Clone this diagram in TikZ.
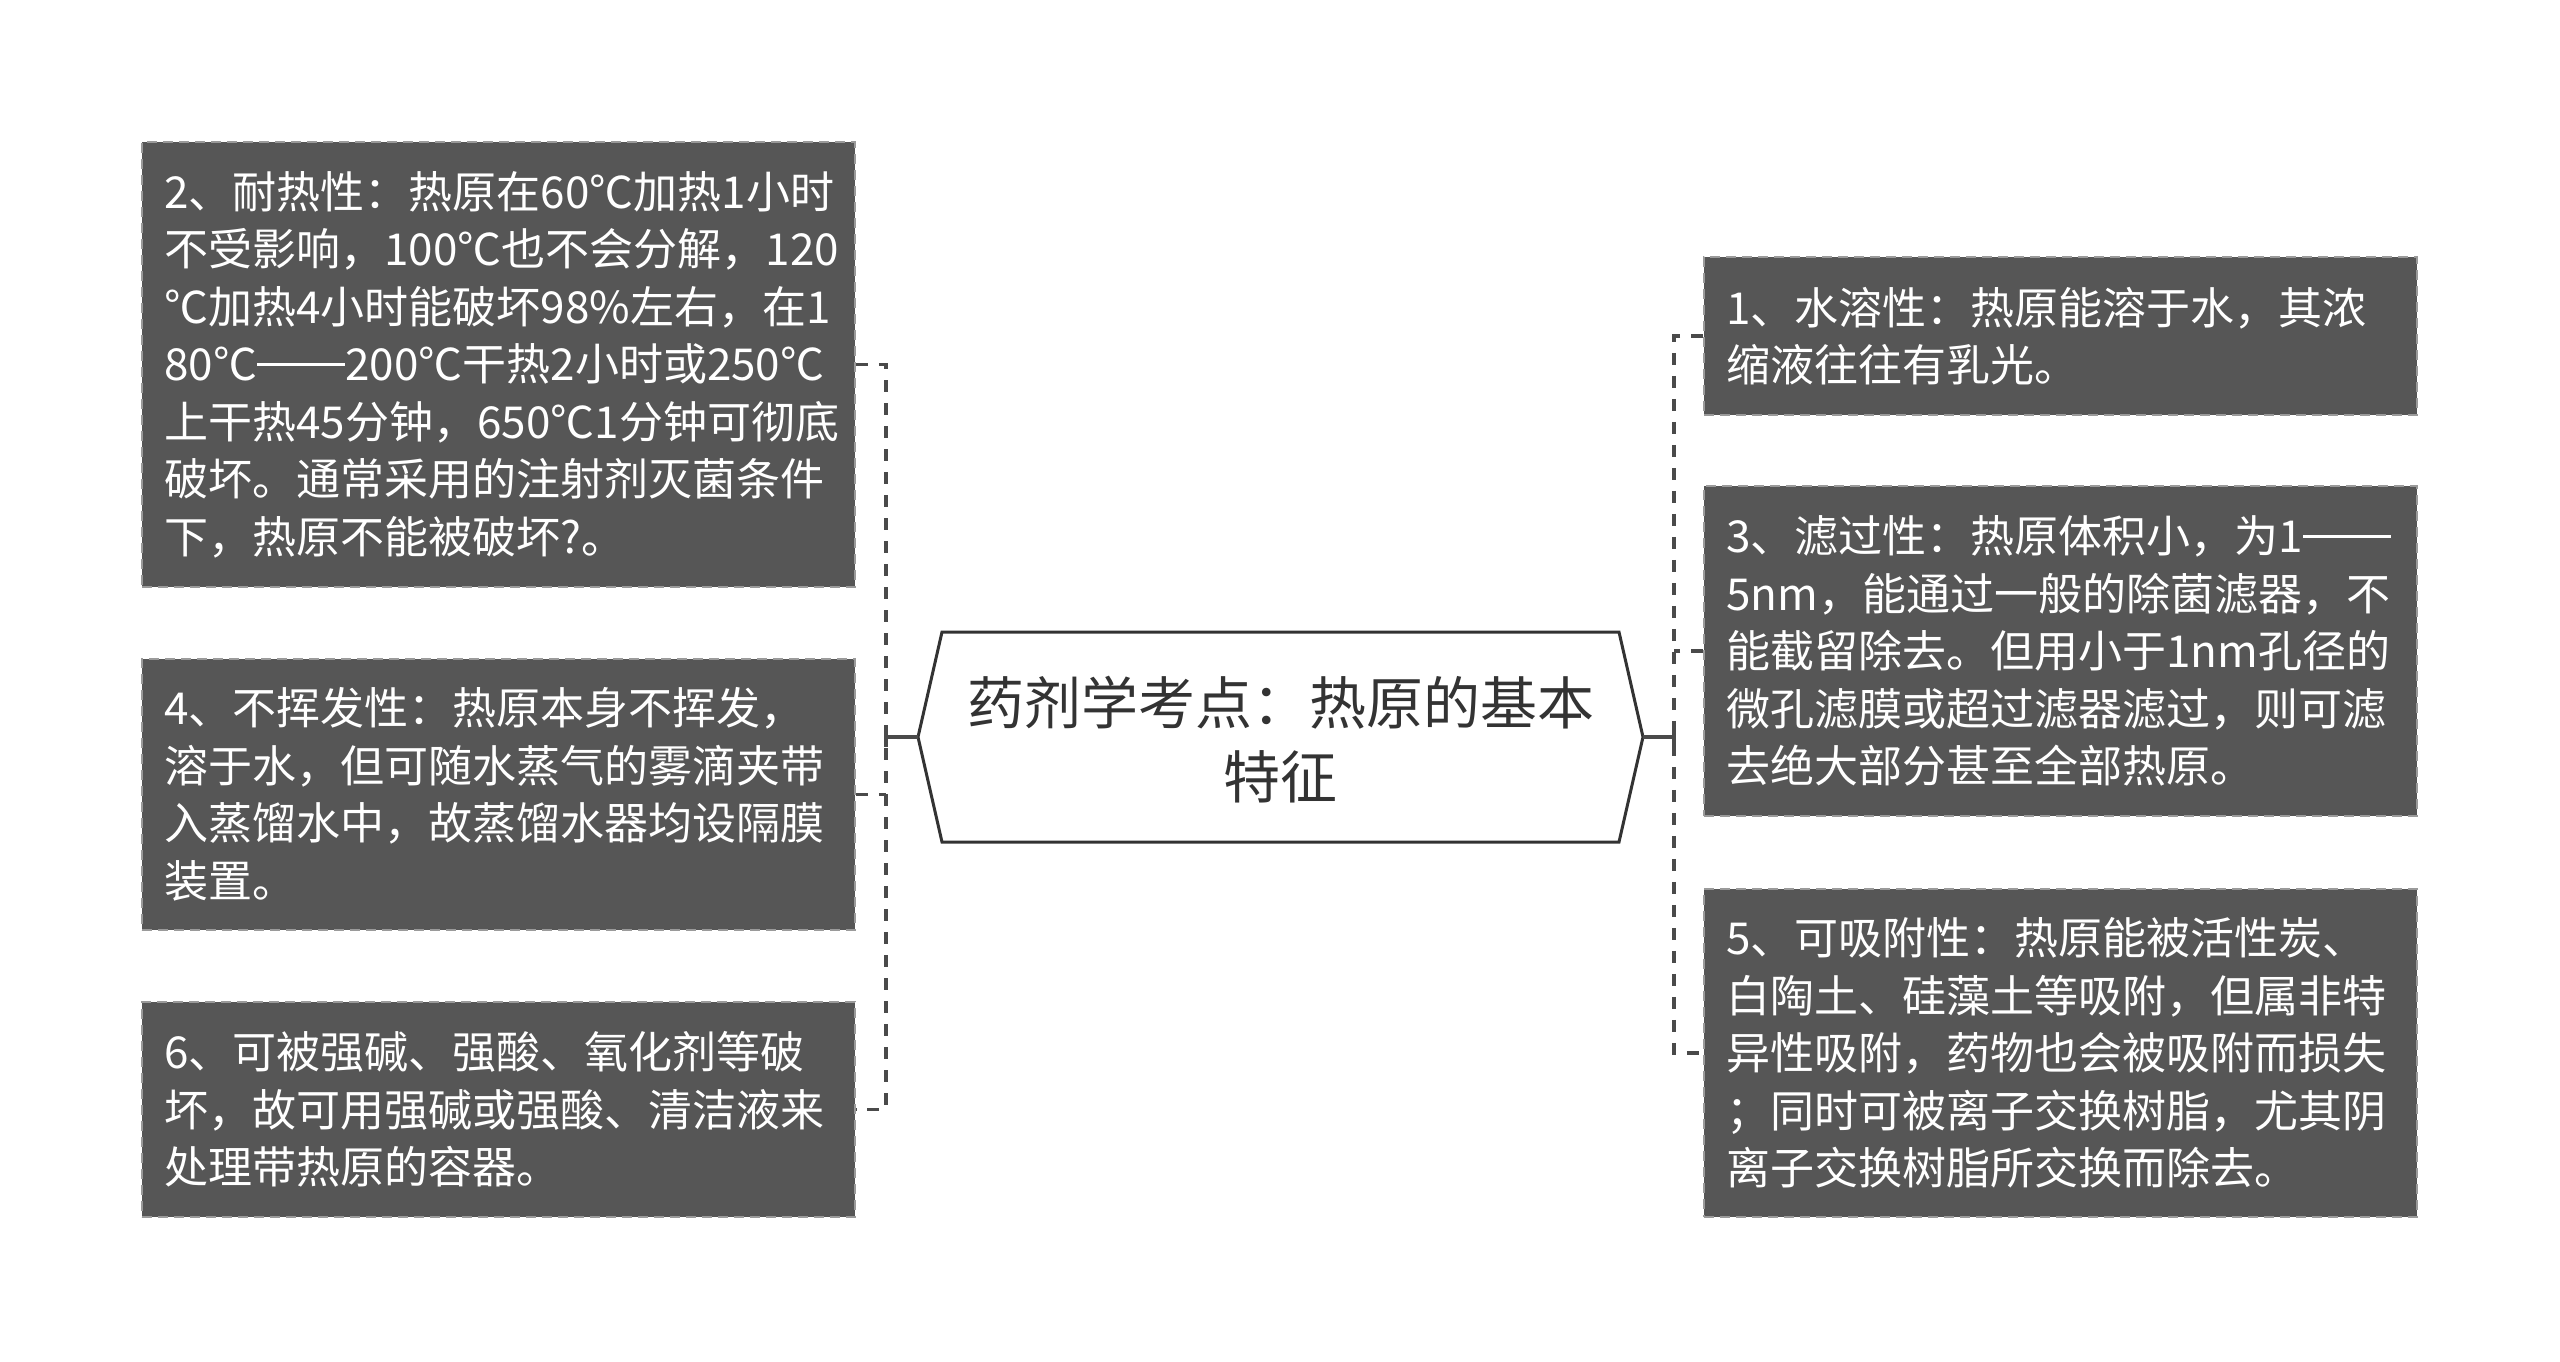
\documentclass[tikz,border=0pt]{standalone}
\usepackage{fontspec}
\setmainfont{Noto Sans CJK SC}
\definecolor{boxfill}{HTML}{565656}
\definecolor{boxline}{HTML}{9A9A9A}
\definecolor{connc}{HTML}{4A4A4A}
\definecolor{titlec}{HTML}{333333}
\newcommand{\emdd}{\rule[0.34em]{2em}{0.055em}}
\begin{document}
\begin{tikzpicture}[x=0.5pt,y=-0.5pt,
  infobox/.style={rectangle, fill=boxfill, draw=boxline, line width=0.9pt,
    dash pattern=on 5pt off 3pt, text=white, align=left,
    text width=334pt, inner xsep=11.25pt, inner ysep=0pt,
    minimum width=356.5pt,
    font=\fontsize{22pt}{28.75pt}\selectfont},
  conn/.style={draw=connc, line width=1.8pt, dash pattern=on 6pt off 5.5pt},
  solidconn/.style={draw=connc, line width=1.8pt},
  hexline/.style={draw=titlec, line width=1.5pt, fill=white, line join=miter},
  titletext/.style={text=titlec, align=center, inner sep=0pt,
    font=\fontsize{28.5pt}{37pt}\selectfont}
]
\useasboundingbox (0,0) rectangle (2560,1361);
\fill[white] (0,0) rectangle (2560,1361);

% hexagon corners
\coordinate (hL) at (918,737);
\coordinate (hTL) at (942,632);
\coordinate (hTR) at (1619,632);
\coordinate (hR) at (1643,737);
\coordinate (hBR) at (1619,842);
\coordinate (hBL) at (942,842);
\draw[hexline] (hL) -- (hTL) -- (hTR) -- (hR) -- (hBR) -- (hBL) -- cycle;
\node[titletext] (title) at (1280.5,740) {药剂学考点：热原的基本\\特征};

% left boxes
\node[infobox, minimum height=222.5pt] (b2) at (498.5,364.5) {\mbox{2、耐热性：热原在60℃加热1小时}\\\mbox{不受影响，100℃也不会分解，120}\\\mbox{℃加热4小时能破坏98\%左右，在1}\\\mbox{80℃\emdd 200℃干热2小时或250℃}\\\mbox{上干热45分钟，650℃1分钟可彻底}\\\mbox{破坏。通常采用的注射剂灭菌条件}\\\mbox{下，热原不能被破坏?。}};
\node[infobox, minimum height=135.5pt] (b4) at (498.5,794.5) {\mbox{4、不挥发性：热原本身不挥发，}\\\mbox{溶于水，但可随水蒸气的雾滴夹带}\\\mbox{入蒸馏水中，故蒸馏水器均设隔膜}\\\mbox{装置。}};
\node[infobox, minimum height=107.5pt] (b6) at (498.5,1109.5) {\mbox{6、可被强碱、强酸、氧化剂等破}\\\mbox{坏，故可用强碱或强酸、清洁液来}\\\mbox{处理带热原的容器。}};

% right boxes
\node[infobox, minimum height=79pt] (b1) at (2060.5,336) {\mbox{1、水溶性：热原能溶于水，其浓}\\\mbox{缩液往往有乳光。}};
\node[infobox, minimum height=165pt] (b3) at (2060.5,651) {\mbox{3、滤过性：热原体积小，为1\emdd}\\\mbox{5nm，能通过一般的除菌滤器，不}\\\mbox{能截留除去。但用小于1nm孔径的}\\\mbox{微孔滤膜或超过滤器滤过，则可滤}\\\mbox{去绝大部分甚至全部热原。}};
\node[infobox, minimum height=164pt] (b5) at (2060.5,1053) {\mbox{5、可吸附性：热原能被活性炭、}\\\mbox{白陶土、硅藻土等吸附，但属非特}\\\mbox{异性吸附，药物也会被吸附而损失}\\\mbox{；同时可被离子交换树脂，尤其阴}\\\mbox{离子交换树脂所交换而除去。}};

% junctions
\coordinate (lj) at (886,737);
\coordinate (rj) at (1674,737);

% left connectors
\draw[conn] (b2.east) -- (b2.east -| lj) -- (b6.east -| lj) -- (b6.east);
\draw[conn] (b4.east) -- (b4.east -| lj);
\draw[solidconn] (hL) -- (lj);
\draw[solidconn] ([yshift=5pt]lj) -- ([yshift=-5pt]lj);

% right connectors
\draw[conn] (b1.west) -- (b1.west -| rj) -- (b5.west -| rj) -- (b5.west);
\draw[conn] (b3.west) -- (b3.west -| rj);
\draw[solidconn] (hR) -- (rj);
\draw[solidconn] ([yshift=5pt]rj) -- ([yshift=-5pt]rj);
\end{tikzpicture}
\end{document}
